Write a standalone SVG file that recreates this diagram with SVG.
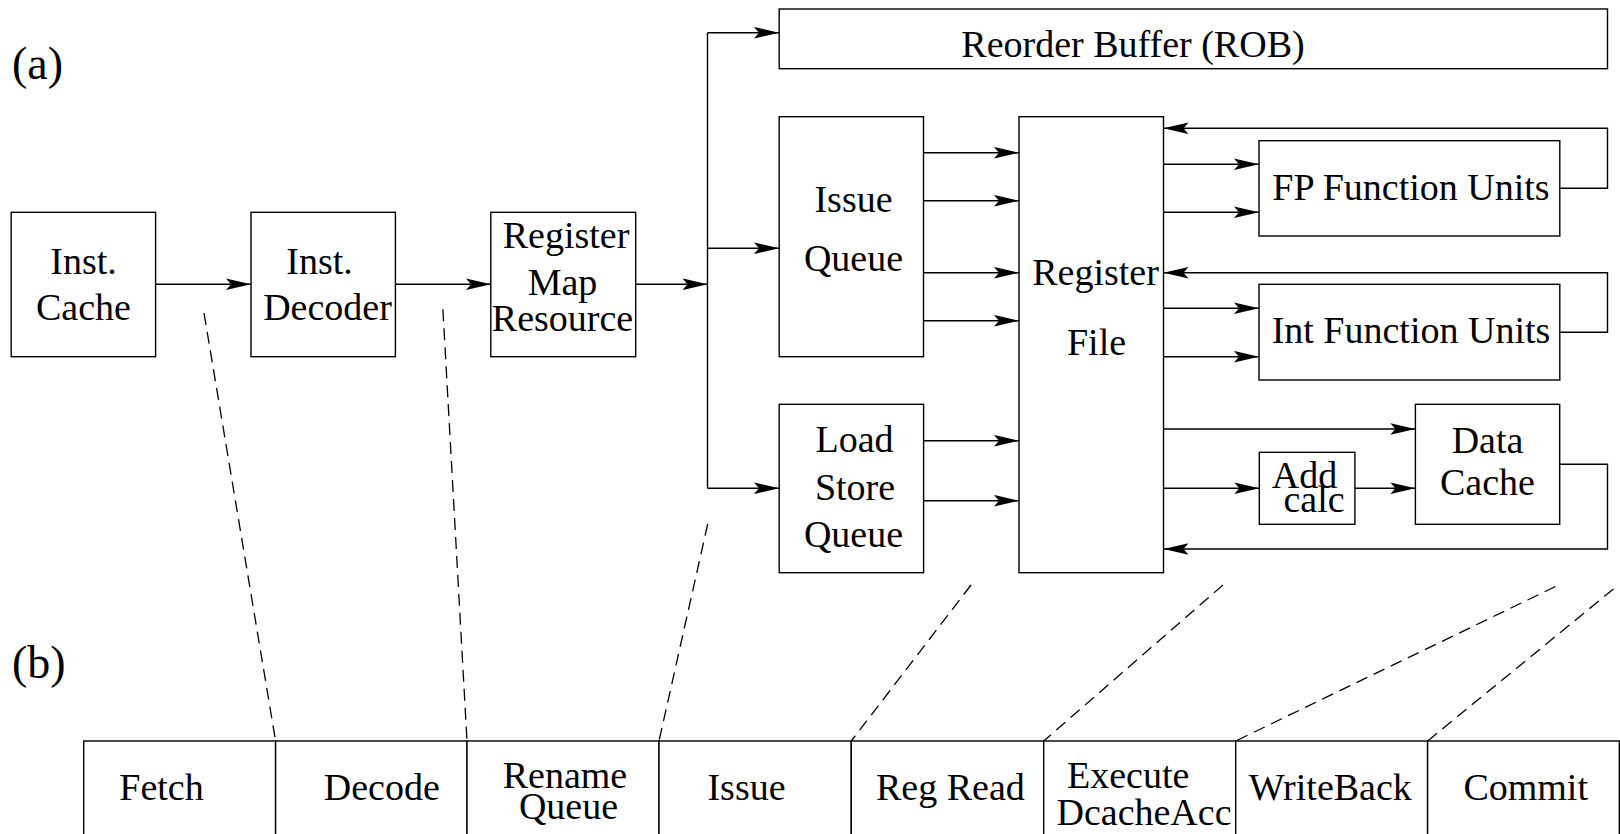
<svg xmlns="http://www.w3.org/2000/svg" width="1620" height="834" viewBox="0 0 1620 834">
<defs>
<marker id="ah" markerUnits="userSpaceOnUse" markerWidth="26" markerHeight="13" refX="25" refY="6" orient="auto">
<path d="M25,6 L0,0.2 L5,6 L0,11.8 Z" fill="#000"/>
</marker>
</defs>
<style>
.box{fill:#fff;stroke:#000;stroke-width:1.4}
.t{font-family:"Liberation Serif","Times New Roman",serif;font-size:38px;fill:#000;text-anchor:middle}
.lbl{font-family:"Liberation Serif","Times New Roman",serif;font-size:46px;fill:#000}
.c{fill:none;stroke:#000;stroke-width:1.4}
.a{marker-end:url(#ah)}
.d{fill:none;stroke:#000;stroke-width:1.3;stroke-dasharray:12 7}
</style>
<rect width="1620" height="834" fill="#fff"/>
<text class="lbl" x="12" y="79">(a)</text>
<text class="lbl" x="12" y="678">(b)</text>

<g id="connectors">
<line class="c a" x1="155.6" y1="284.3" x2="251" y2="284.3"/>
<line class="c a" x1="395.4" y1="284.3" x2="491" y2="284.3"/>
<line class="c a" x1="635.7" y1="284.3" x2="707.5" y2="284.3"/>
<line class="c" x1="707.5" y1="32.7" x2="707.5" y2="488.3"/>
<line class="c a" x1="707.5" y1="32.7" x2="779" y2="32.7"/>
<line class="c a" x1="707.5" y1="248.3" x2="779" y2="248.3"/>
<line class="c a" x1="707.5" y1="488.3" x2="779" y2="488.3"/>
<line class="c a" x1="923.5" y1="152.7" x2="1019" y2="152.7"/>
<line class="c a" x1="923.5" y1="200.7" x2="1019" y2="200.7"/>
<line class="c a" x1="923.5" y1="272.7" x2="1019" y2="272.7"/>
<line class="c a" x1="923.5" y1="320.7" x2="1019" y2="320.7"/>
<line class="c a" x1="923.5" y1="440.7" x2="1019" y2="440.7"/>
<line class="c a" x1="923.5" y1="500.7" x2="1019" y2="500.7"/>
<line class="c a" x1="1163.5" y1="164.3" x2="1259" y2="164.3"/>
<line class="c a" x1="1163.5" y1="212.3" x2="1259" y2="212.3"/>
<line class="c a" x1="1163.5" y1="308.3" x2="1259" y2="308.3"/>
<line class="c a" x1="1163.5" y1="356.7" x2="1259" y2="356.7"/>
<line class="c a" x1="1163.5" y1="429" x2="1415.4" y2="429"/>
<line class="c a" x1="1163.5" y1="488.3" x2="1259.3" y2="488.3"/>
<line class="c a" x1="1354.9" y1="488.3" x2="1415.4" y2="488.3"/>
<polyline class="c a" points="1559.8,188.3 1607.5,188.3 1607.5,128.3 1163.5,128.3"/>
<polyline class="c a" points="1559.8,332.3 1607.5,332.3 1607.5,272.7 1163.5,272.7"/>
<polyline class="c a" points="1559.7,464.3 1607.5,464.3 1607.5,549 1163.5,549"/>
<line class="d" x1="204" y1="313" x2="275.6" y2="741"/>
<line class="d" x1="442.9" y1="309.3" x2="467" y2="741"/>
<line class="d" x1="707.7" y1="524" x2="659" y2="741"/>
<line class="d" x1="971" y1="585" x2="851.3" y2="741"/>
<line class="d" x1="1223" y1="585" x2="1043.7" y2="741"/>
<line class="d" x1="1555.5" y1="586.5" x2="1235.7" y2="741"/>
<line class="d" x1="1613.5" y1="589" x2="1427.6" y2="741"/>
</g>

<g id="inst-cache">
<rect class="box" x="11.2" y="212.3" width="144.4" height="144.4"/>
<text class="t" x="83.5" y="273.5">Inst.</text>
<text class="t" x="83.5" y="320">Cache</text>
</g>
<g id="inst-decoder">
<rect class="box" x="251" y="212.3" width="144.4" height="144.4"/>
<text class="t" x="319.5" y="273.5">Inst.</text>
<text class="t" x="327.5" y="320">Decoder</text>
</g>
<g id="register-map">
<rect class="box" x="490.8" y="212.3" width="144.9" height="144.4"/>
<text class="t" x="566" y="248.3">Register</text>
<text class="t" x="562.5" y="295">Map</text>
<text class="t" x="562.5" y="331">Resource</text>
</g>
<g id="rob">
<rect class="box" x="779.2" y="9" width="828.3" height="59.7"/>
<text class="t" x="1133" y="56.7">Reorder Buffer (ROB)</text>
</g>
<g id="issue-queue">
<rect class="box" x="779.2" y="116.7" width="144.3" height="240"/>
<text class="t" x="853.5" y="212.3">Issue</text>
<text class="t" x="853.5" y="271.3">Queue</text>
</g>
<g id="load-store-queue">
<rect class="box" x="779.2" y="404.3" width="144.4" height="168.4"/>
<text class="t" x="854.5" y="452.3">Load</text>
<text class="t" x="855" y="500">Store</text>
<text class="t" x="853.5" y="547">Queue</text>
</g>
<g id="register-file">
<rect class="box" x="1019" y="116.7" width="144.5" height="456"/>
<text class="t" x="1095.5" y="284.5">Register</text>
<text class="t" x="1096.5" y="355">File</text>
</g>
<g id="fp-units">
<rect class="box" x="1259" y="140.7" width="300.8" height="95.3"/>
<text class="t" x="1411" y="199.7">FP Function Units</text>
</g>
<g id="int-units">
<rect class="box" x="1259" y="284.3" width="300.8" height="95.7"/>
<text class="t" x="1411" y="343.2">Int Function Units</text>
</g>
<g id="add-calc">
<rect class="box" x="1259.3" y="452.3" width="95.6" height="72"/>
<text class="t" x="1304.5" y="488">Add</text>
<text class="t" x="1314" y="511.5">calc</text>
</g>
<g id="data-cache">
<rect class="box" x="1415.4" y="404.3" width="144.3" height="120"/>
<text class="t" x="1487.5" y="452.5">Data</text>
<text class="t" x="1487.5" y="495">Cache</text>
</g>

<g id="stage-fetch">
<rect class="box" x="83.7" y="741" width="191.9" height="110"/>
<text class="t" x="161.5" y="800">Fetch</text>
</g>
<g id="stage-decode">
<rect class="box" x="275.6" y="741" width="191.4" height="110"/>
<text class="t" x="381.8" y="800">Decode</text>
</g>
<g id="stage-rename">
<rect class="box" x="467" y="741" width="192" height="110"/>
<text class="t" x="565" y="788">Rename</text>
<text class="t" x="568.5" y="819">Queue</text>
</g>
<g id="stage-issue">
<rect class="box" x="659" y="741" width="192.3" height="110"/>
<text class="t" x="746.5" y="800">Issue</text>
</g>
<g id="stage-regread">
<rect class="box" x="851.3" y="741" width="192.4" height="110"/>
<text class="t" x="950.4" y="800">Reg Read</text>
</g>
<g id="stage-execute">
<rect class="box" x="1043.7" y="741" width="192" height="110"/>
<text class="t" x="1128.2" y="788">Execute</text>
<text class="t" x="1144" y="825">DcacheAcc</text>
</g>
<g id="stage-writeback">
<rect class="box" x="1235.7" y="741" width="191.9" height="110"/>
<text class="t" x="1330.3" y="800">WriteBack</text>
</g>
<g id="stage-commit">
<rect class="box" x="1427.6" y="741" width="191.7" height="110"/>
<text class="t" x="1525.7" y="800">Commit</text>
</g>
</svg>
